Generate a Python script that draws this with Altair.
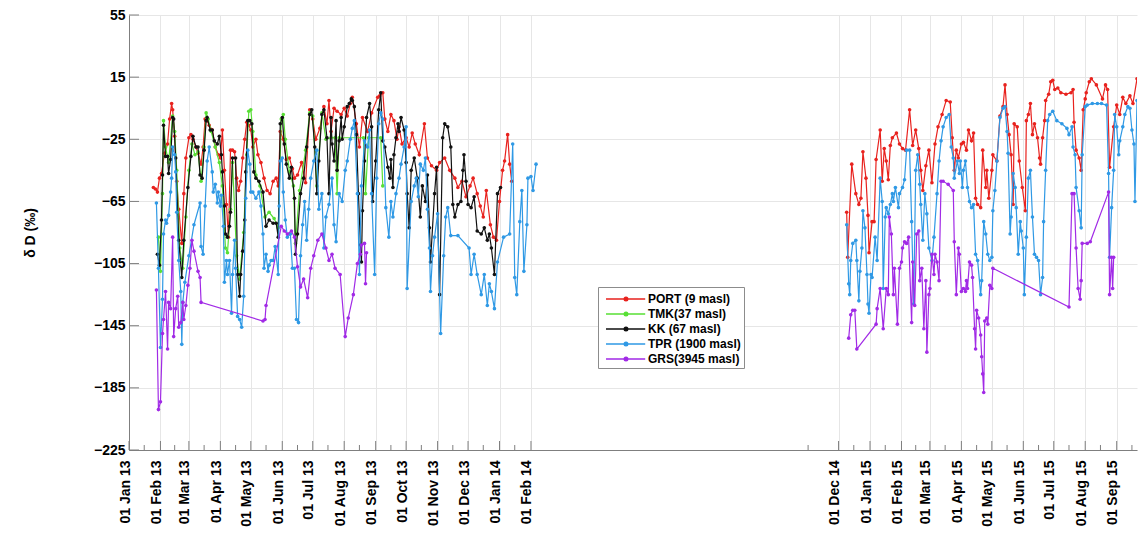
import altair as alt
import pandas as pd

# ---------------------------------------------------------------- data
site_names = ["PORT (9 masl)", "TMK(37 masl)", "KK (67 masl)", "TPR (1900 masl)", "GRS(3945 masl)"]
site_colors = ["#e8221e", "#58e035", "#111111", "#2f99e5", "#a12ae6"]

# (sampling date, dD in permil)
port = [
    ("2013-01-25", -56), ("2013-01-27", -57), ("2013-01-29", -59), ("2013-01-31", -50), ("2013-02-02", -47),
    ("2013-02-05", -34), ("2013-02-08", -28), ("2013-02-10", -12), ("2013-02-12", -2), ("2013-02-13", -6),
    ("2013-02-15", -23), ("2013-02-17", -52), ("2013-02-19", -70), ("2013-02-22", -92), ("2013-02-24", -60),
    ("2013-02-26", -37), ("2013-03-01", -24), ("2013-03-03", -22), ("2013-03-05", -25), ("2013-03-08", -30),
    ("2013-03-10", -34), ("2013-03-13", -41), ("2013-03-15", -30), ("2013-03-17", -12), ("2013-03-19", -13),
    ("2013-03-21", -16), ("2013-03-24", -19), ("2013-03-27", -30), ("2013-03-30", -35), ("2013-04-01", -37),
    ("2013-04-03", -19), ("2013-04-05", -45), ("2013-04-07", -67), ("2013-04-09", -88), ("2013-04-11", -32),
    ("2013-04-13", -32), ("2013-04-15", -33), ("2013-04-17", -50), ("2013-04-19", -58), ("2013-04-21", -52),
    ("2013-04-23", -37), ("2013-04-25", -25), ("2013-04-27", -14), ("2013-04-29", -16), ("2013-05-01", -19),
    ("2013-05-03", -30), ("2013-05-06", -25), ("2013-05-08", -35), ("2013-05-11", -40), ("2013-05-14", -50),
    ("2013-05-17", -58), ("2013-05-20", -60), ("2013-05-23", -52), ("2013-05-26", -50), ("2013-05-28", -55),
    ("2013-05-30", -20), ("2013-06-02", -25), ("2013-06-05", -38), ("2013-06-08", -37), ("2013-06-11", -44),
    ("2013-06-13", -50), ("2013-06-16", -48), ("2013-06-20", -40), ("2013-06-24", -53), ("2013-06-28", -6),
    ("2013-07-01", -12), ("2013-07-04", -25), ("2013-07-08", -18), ("2013-07-12", -4), ("2013-07-15", -15),
    ("2013-07-17", 0), ("2013-07-19", -20), ("2013-07-22", -5), ("2013-07-25", -7), ("2013-07-29", -9),
    ("2013-08-01", -5), ("2013-08-04", -10), ("2013-08-07", -2), ("2013-08-09", 2), ("2013-08-13", -15),
    ("2013-08-16", -30), ("2013-08-19", -11), ("2013-08-24", -20), ("2013-08-28", -8), ("2013-09-03", 2),
    ("2013-09-05", 3), ("2013-09-08", 5), ("2013-09-10", -12), ("2013-09-13", -20), ("2013-09-16", -9),
    ("2013-09-19", -13), ("2013-09-22", -25), ("2013-09-24", -17), ("2013-09-27", -28), ("2013-10-01", -24),
    ("2013-10-04", -30), ("2013-10-07", -21), ("2013-10-10", -28), ("2013-10-14", -35), ("2013-10-19", -15),
    ("2013-10-22", -37), ("2013-10-26", -42), ("2013-10-31", -45), ("2013-11-03", -40), ("2013-11-08", -37),
    ("2013-11-13", -45), ("2013-11-18", -50), ("2013-11-21", -56), ("2013-11-25", -52), ("2013-11-29", -62),
    ("2013-12-03", -55), ("2013-12-06", -50), ("2013-12-10", -60), ("2013-12-13", -68), ("2013-12-16", -75),
    ("2013-12-19", -58), ("2013-12-23", -80), ("2013-12-26", -88), ("2013-12-29", -90), ("2014-01-01", -65),
    ("2014-01-04", -45), ("2014-01-06", -39), ("2014-01-09", -22), ("2014-01-11", -41), ("2014-01-13", -52),
    ("2014-12-09", -72), ("2014-12-10", -101), ("2014-12-14", -41), ("2014-12-18", -60), ("2014-12-21", -67),
    ("2014-12-23", -63), ("2014-12-25", -33), ("2014-12-28", -50), ("2014-12-30", -74), ("2014-12-31", -98),
    ("2015-01-03", -78), ("2015-01-05", -78), ("2015-01-07", -38), ("2015-01-11", -19), ("2015-01-13", -52),
    ("2015-01-15", -31), ("2015-01-17", -39), ("2015-01-19", -51), ("2015-01-21", -29), ("2015-01-23", -24),
    ("2015-01-27", -21), ("2015-01-30", -28), ("2015-02-02", -31), ("2015-02-05", -32), ("2015-02-09", -6),
    ("2015-02-12", -29), ("2015-02-15", -19), ("2015-02-18", -31), ("2015-02-20", -45), ("2015-02-22", -58),
    ("2015-02-25", -42), ("2015-02-28", -32), ("2015-03-03", -53), ("2015-03-06", -28), ("2015-03-09", -17),
    ("2015-03-13", -9), ("2015-03-17", 0), ("2015-03-21", -1), ("2015-03-23", -24), ("2015-03-25", -45),
    ("2015-03-27", -32), ("2015-03-29", -37), ("2015-04-01", -28), ("2015-04-03", -27), ("2015-04-06", -32),
    ("2015-04-08", -19), ("2015-04-11", -26), ("2015-04-13", -21), ("2015-04-15", -63), ("2015-04-17", -67),
    ("2015-04-20", -69), ("2015-04-22", -32), ("2015-04-25", -56), ("2015-04-26", -45), ("2015-04-28", -63),
    ("2015-05-01", -45), ("2015-05-02", -35), ("2015-05-06", -39), ("2015-05-09", -10), ("2015-05-12", -4),
    ("2015-05-14", 10), ("2015-05-16", -9), ("2015-05-18", -22), ("2015-05-20", -35), ("2015-05-22", -67),
    ("2015-05-23", -15), ("2015-05-26", -17), ("2015-05-28", -39), ("2015-05-31", -56), ("2015-06-03", -71),
    ("2015-06-04", -13), ("2015-06-06", -9), ("2015-06-08", -2), ("2015-06-10", -22), ("2015-06-12", -15),
    ("2015-06-15", -24), ("2015-06-17", -37), ("2015-06-18", -41), ("2015-06-20", -24), ("2015-06-22", -13),
    ("2015-06-23", 0), ("2015-06-26", 4), ("2015-06-28", 12), ("2015-06-30", 13), ("2015-07-02", 7),
    ("2015-07-05", 8), ("2015-07-08", 5), ("2015-07-13", 4), ("2015-07-18", 5), ("2015-07-20", 7),
    ("2015-07-21", -14), ("2015-07-23", -32), ("2015-07-26", -37), ("2015-07-28", -45), ("2015-07-30", -6),
    ("2015-08-01", 1), ("2015-08-02", 5), ("2015-08-05", 12), ("2015-08-07", 14), ("2015-08-12", 10),
    ("2015-08-18", 1), ("2015-08-21", 10), ("2015-08-23", 7), ("2015-08-25", -43), ("2015-08-29", -17),
    ("2015-09-01", -3), ("2015-09-04", -9), ("2015-09-07", 2), ("2015-09-10", -2), ("2015-09-14", 3),
    ("2015-09-17", -2), ("2015-09-21", 14),
]

tmk = [
    ("2013-01-30", -88), ("2013-02-01", -110), ("2013-02-03", -60), ("2013-02-04", -13), ("2013-02-06", -30),
    ("2013-02-09", -40), ("2013-02-13", -10), ("2013-02-15", -20), ("2013-02-17", -45), ("2013-02-20", -95),
    ("2013-02-23", -108), ("2013-02-26", -75), ("2013-03-01", -45), ("2013-03-04", -28), ("2013-03-07", -35),
    ("2013-03-10", -33), ("2013-03-13", -52), ("2013-03-16", -30), ("2013-03-18", -8), ("2013-03-20", -12),
    ("2013-03-23", -20), ("2013-03-27", -30), ("2013-03-31", -40), ("2013-04-03", -55), ("2013-04-06", -95),
    ("2013-04-08", -98), ("2013-04-11", -70), ("2013-04-13", -40), ("2013-04-17", -100), ("2013-04-20", -115),
    ("2013-04-24", -85), ("2013-04-27", -35), ("2013-04-29", -7), ("2013-05-01", -6), ("2013-05-03", -20),
    ("2013-05-06", -48), ("2013-05-10", -55), ("2013-05-15", -75), ("2013-05-19", -72), ("2013-05-24", -76),
    ("2013-05-28", -82), ("2013-05-31", -12), ("2013-06-02", -9), ("2013-06-04", -25), ("2013-06-08", -46),
    ("2013-06-12", -55), ("2013-06-14", -92), ("2013-06-18", -58), ("2013-06-24", -32), ("2013-06-28", -8),
    ("2013-07-01", -10), ("2013-07-05", -55), ("2013-07-10", -8), ("2013-07-14", -25), ("2013-07-19", -24),
    ("2013-07-23", -24), ("2013-07-25", -60), ("2013-07-27", -24), ("2013-08-20", -24), ("2013-08-22", -60),
    ("2013-08-25", -24), ("2013-09-06", -24), ("2013-09-08", -55),
]

kk = [
    ("2013-01-29", -99), ("2013-01-31", -106), ("2013-02-02", -77), ("2013-02-03", -48), ("2013-02-04", -16),
    ("2013-02-06", -36), ("2013-02-08", -36), ("2013-02-09", -47), ("2013-02-11", -38), ("2013-02-13", -11),
    ("2013-02-14", -12), ("2013-02-16", -37), ("2013-02-19", -90), ("2013-02-22", -114), ("2013-02-24", -90),
    ("2013-02-28", -56), ("2013-03-03", -36), ("2013-03-05", -23), ("2013-03-08", -30), ("2013-03-10", -30),
    ("2013-03-12", -48), ("2013-03-14", -50), ("2013-03-16", -32), ("2013-03-18", -13), ("2013-03-19", -11),
    ("2013-03-22", -19), ("2013-03-24", -19), ("2013-03-26", -26), ("2013-03-29", -28), ("2013-03-31", -23),
    ("2013-04-02", -35), ("2013-04-03", -46), ("2013-04-05", -68), ("2013-04-06", -86), ("2013-04-08", -88),
    ("2013-04-10", -81), ("2013-04-11", -72), ("2013-04-13", -37), ("2013-04-16", -37), ("2013-04-18", -112),
    ("2013-04-20", -126), ("2013-04-21", -112), ("2013-04-23", -97), ("2013-04-25", -77), ("2013-04-26", -46),
    ("2013-04-28", -13), ("2013-04-30", -13), ("2013-05-02", -15), ("2013-05-04", -46), ("2013-05-06", -50),
    ("2013-05-09", -52), ("2013-05-13", -59), ("2013-05-16", -81), ("2013-05-19", -77), ("2013-05-23", -79),
    ("2013-05-26", -79), ("2013-05-28", -88), ("2013-05-30", -15), ("2013-06-01", -11), ("2013-06-03", -28),
    ("2013-06-05", -41), ("2013-06-08", -50), ("2013-06-10", -43), ("2013-06-13", -63), ("2013-06-14", -99),
    ("2013-06-16", -86), ("2013-06-19", -60), ("2013-06-22", -50), ("2013-06-25", -30), ("2013-06-28", -9),
    ("2013-06-30", -6), ("2013-07-03", -30), ("2013-07-05", -60), ("2013-07-07", -39), ("2013-07-10", -9),
    ("2013-07-12", -6), ("2013-07-15", -24), ("2013-07-17", -60), ("2013-07-19", -11), ("2013-07-20", -28),
    ("2013-07-22", -39), ("2013-07-24", -13), ("2013-07-25", -45), ("2013-07-27", -26), ("2013-07-29", -11),
    ("2013-07-30", -25), ("2013-08-01", -17), ("2013-08-04", -4), ("2013-08-06", -2), ("2013-08-08", 1),
    ("2013-08-09", 0), ("2013-08-11", -4), ("2013-08-13", -22), ("2013-08-15", -60), ("2013-08-17", -93),
    ("2013-08-18", -104), ("2013-08-19", -71), ("2013-08-21", -39), ("2013-08-23", -11), ("2013-08-26", -2),
    ("2013-08-28", -17), ("2013-08-29", -65), ("2013-09-01", -39), ("2013-09-04", -6), ("2013-09-06", 5),
    ("2013-09-08", -26), ("2013-09-10", -30), ("2013-09-13", -43), ("2013-09-15", -50), ("2013-09-16", -38),
    ("2013-09-18", -56), ("2013-09-19", -35), ("2013-09-21", -24), ("2013-09-23", -15), ("2013-09-24", -20),
    ("2013-09-26", -11), ("2013-09-29", -19), ("2013-10-01", -40), ("2013-10-02", -60), ("2013-10-04", -82),
    ("2013-10-06", -45), ("2013-10-09", -37), ("2013-10-12", -50), ("2013-10-15", -75), ("2013-10-17", -55),
    ("2013-10-20", -65), ("2013-10-22", -48), ("2013-10-24", -82), ("2013-10-25", -104), ("2013-10-29", -60),
    ("2013-10-31", -43), ("2013-11-03", -125), ("2013-11-06", -24), ("2013-11-08", -15), ("2013-11-11", -17),
    ("2013-11-14", -30), ("2013-11-16", -67), ("2013-11-18", -75), ("2013-11-21", -67), ("2013-11-24", -65),
    ("2013-11-26", -45), ("2013-11-27", -35), ("2013-11-29", -52), ("2013-12-01", -67), ("2013-12-04", -69),
    ("2013-12-07", -62), ("2013-12-10", -84), ("2013-12-14", -86), ("2013-12-17", -82), ("2013-12-20", -90),
    ("2013-12-22", -86), ("2013-12-24", -95), ("2013-12-27", -112), ("2013-12-30", -60), ("2014-01-02", -56),
]

tpr = [
    ("2013-01-28", -66), ("2013-01-30", -108), ("2013-02-01", -159), ("2013-02-03", -128), ("2013-02-04", -86),
    ("2013-02-06", -77), ("2013-02-07", -79), ("2013-02-09", -74), ("2013-02-11", -59), ("2013-02-12", -50),
    ("2013-02-13", -30), ("2013-02-15", -35), ("2013-02-16", -46), ("2013-02-17", -72), ("2013-02-19", -103),
    ("2013-02-21", -123), ("2013-02-22", -157), ("2013-02-23", -130), ("2013-02-25", -117), ("2013-03-01", -100),
    ("2013-03-06", -80), ("2013-03-12", -66), ("2013-03-13", -94), ("2013-03-15", -99), ("2013-03-17", -68),
    ("2013-03-19", -39), ("2013-03-21", -30), ("2013-03-24", -46), ("2013-03-25", -59), ("2013-03-27", -54),
    ("2013-03-29", -66), ("2013-03-30", -59), ("2013-04-01", -68), ("2013-04-02", -61), ("2013-04-04", -81),
    ("2013-04-05", -117), ("2013-04-07", -103), ("2013-04-08", -112), ("2013-04-10", -103), ("2013-04-12", -137),
    ("2013-04-13", -112), ("2013-04-15", -90), ("2013-04-16", -108), ("2013-04-18", -139), ("2013-04-20", -141),
    ("2013-04-22", -146), ("2013-04-24", -126), ("2013-04-26", -63), ("2013-04-28", -32), ("2013-04-30", -41),
    ("2013-05-01", -59), ("2013-05-03", -59), ("2013-05-06", -63), ("2013-05-09", -59), ("2013-05-11", -68),
    ("2013-05-13", -86), ("2013-05-14", -108), ("2013-05-16", -99), ("2013-05-18", -110), ("2013-05-19", -106),
    ("2013-05-21", -103), ("2013-05-23", -103), ("2013-05-25", -94), ("2013-05-28", -112), ("2013-05-29", -68),
    ("2013-05-30", -39), ("2013-06-01", -37), ("2013-06-02", -59), ("2013-06-04", -77), ("2013-06-06", -88),
    ("2013-06-09", -86), ("2013-06-11", -108), ("2013-06-13", -108), ("2013-06-15", -141), ("2013-06-17", -143),
    ("2013-06-19", -100), ("2013-06-21", -80), ("2013-06-23", -65), ("2013-06-25", -90), ("2013-06-27", -70),
    ("2013-06-29", -50), ("2013-07-02", -39), ("2013-07-05", -32), ("2013-07-07", -70), ("2013-07-10", -60),
    ("2013-07-12", -95), ("2013-07-14", -75), ("2013-07-17", -67), ("2013-07-20", -50), ("2013-07-22", -80),
    ("2013-07-24", -91), ("2013-07-27", -60), ("2013-07-30", -65), ("2013-08-02", -45), ("2013-08-04", -39),
    ("2013-08-07", -25), ("2013-08-09", -18), ("2013-08-11", -13), ("2013-08-14", -60), ("2013-08-16", -112),
    ("2013-08-18", -55), ("2013-08-21", -26), ("2013-08-24", -30), ("2013-08-26", -19), ("2013-08-28", -60),
    ("2013-08-31", -112), ("2013-09-02", -50), ("2013-09-04", -15), ("2013-09-06", -8), ("2013-09-08", -12),
    ("2013-09-11", -69), ("2013-09-14", -88), ("2013-09-16", -65), ("2013-09-18", -75), ("2013-09-21", -60),
    ("2013-09-24", -50), ("2013-09-26", -41), ("2013-09-29", -30), ("2013-10-01", -17), ("2013-10-02", -121),
    ("2013-10-06", -65), ("2013-10-09", -55), ("2013-10-11", -50), ("2013-10-13", -62), ("2013-10-15", -41),
    ("2013-10-18", -45), ("2013-10-20", -37), ("2013-10-22", -70), ("2013-10-24", -95), ("2013-10-25", -123),
    ("2013-10-27", -100), ("2013-10-29", -88), ("2013-11-01", -73), ("2013-11-04", -150), ("2013-11-07", -100),
    ("2013-11-09", -75), ("2013-11-11", -69), ("2013-11-14", -87), ("2013-11-21", -87), ("2013-12-02", -95),
    ("2013-12-04", -112), ("2013-12-07", -99), ("2013-12-10", -112), ("2013-12-14", -125), ("2013-12-17", -112),
    ("2013-12-20", -132), ("2013-12-22", -118), ("2013-12-24", -123), ("2013-12-27", -134), ("2013-12-30", -104),
    ("2014-01-05", -88), ("2014-01-11", -86), ("2014-01-14", -28), ("2014-01-16", -114), ("2014-01-18", -125),
    ("2014-01-21", -78), ("2014-01-23", -58), ("2014-01-25", -110), ("2014-01-28", -80), ("2014-01-29", -50),
    ("2014-02-01", -49), ("2014-02-03", -58), ("2014-02-06", -41),
    ("2014-12-09", -80), ("2014-12-11", -118), ("2014-12-12", -125), ("2014-12-13", -103), ("2014-12-15", -92),
    ("2014-12-18", -90), ("2014-12-19", -103), ("2014-12-21", -129), ("2014-12-22", -110), ("2014-12-24", -95),
    ("2014-12-25", -71), ("2014-12-27", -82), ("2014-12-29", -112), ("2014-12-30", -131), ("2014-12-31", -137),
    ("2015-01-02", -112), ("2015-01-03", -114), ("2015-01-06", -88), ("2015-01-08", -103), ("2015-01-11", -50),
    ("2015-01-13", -65), ("2015-01-14", -121), ("2015-01-16", -75), ("2015-01-17", -69), ("2015-01-19", -73),
    ("2015-01-21", -67), ("2015-01-23", -60), ("2015-01-24", -65), ("2015-01-26", -56), ("2015-01-29", -69),
    ("2015-01-30", -60), ("2015-02-02", -56), ("2015-02-04", -51), ("2015-02-06", -32), ("2015-02-09", -32),
    ("2015-02-11", -78), ("2015-02-13", -131), ("2015-02-15", -45), ("2015-02-17", -35), ("2015-02-19", -54),
    ("2015-02-20", -67), ("2015-02-22", -90), ("2015-02-24", -60), ("2015-02-26", -73), ("2015-02-28", -95),
    ("2015-03-03", -103), ("2015-03-05", -88), ("2015-03-08", -60), ("2015-03-10", -39), ("2015-03-12", -26),
    ("2015-03-14", -17), ("2015-03-17", -11), ("2015-03-20", -9), ("2015-03-22", -30), ("2015-03-24", -37),
    ("2015-03-25", -50), ("2015-03-28", -39), ("2015-03-30", -47), ("2015-03-31", -39), ("2015-04-02", -56),
    ("2015-04-03", -45), ("2015-04-05", -39), ("2015-04-07", -56), ("2015-04-09", -65), ("2015-04-11", -69),
    ("2015-04-13", -67), ("2015-04-15", -99), ("2015-04-17", -103), ("2015-04-20", -125), ("2015-04-21", -116),
    ("2015-04-23", -78), ("2015-04-25", -86), ("2015-04-27", -99), ("2015-04-29", -103), ("2015-05-01", -101),
    ("2015-05-02", -71), ("2015-05-04", -58), ("2015-05-06", -39), ("2015-05-09", -11), ("2015-05-12", -5),
    ("2015-05-14", -4), ("2015-05-16", -20), ("2015-05-17", -34), ("2015-05-19", -86), ("2015-05-20", -75),
    ("2015-05-22", -47), ("2015-05-24", -56), ("2015-05-25", -69), ("2015-05-27", -99), ("2015-05-29", -78),
    ("2015-05-30", -84), ("2015-06-01", -95), ("2015-06-02", -125), ("2015-06-04", -88), ("2015-06-06", -50),
    ("2015-06-08", -45), ("2015-06-10", -75), ("2015-06-12", -99), ("2015-06-14", -101), ("2015-06-16", -103),
    ("2015-06-18", -125), ("2015-06-20", -114), ("2015-06-21", -78), ("2015-06-23", -45), ("2015-06-25", -13),
    ("2015-06-27", -9), ("2015-06-30", -7), ("2015-07-04", -13), ("2015-07-09", -15), ("2015-07-14", -18),
    ("2015-07-16", -22), ("2015-07-19", -17), ("2015-07-20", -30), ("2015-07-22", -35), ("2015-07-23", -56),
    ("2015-07-26", -71), ("2015-07-28", -82), ("2015-07-29", -35), ("2015-08-01", -4), ("2015-08-03", -3),
    ("2015-08-08", -2), ("2015-08-13", -2), ("2015-08-17", -2), ("2015-08-22", -3), ("2015-08-24", -47),
    ("2015-08-25", -101), ("2015-08-27", -69), ("2015-08-29", -45), ("2015-08-30", -9), ("2015-09-01", -17),
    ("2015-09-03", -35), ("2015-09-04", -26), ("2015-09-07", -17), ("2015-09-09", -9), ("2015-09-12", -4),
    ("2015-09-14", -5), ("2015-09-16", -19), ("2015-09-18", -28), ("2015-09-19", -65), ("2015-09-21", 0),
]

grs = [
    ("2013-01-28", -122), ("2013-01-30", -199), ("2013-02-01", -194), ("2013-02-03", -150), ("2013-02-04", -141),
    ("2013-02-06", -123), ("2013-02-08", -160), ("2013-02-09", -130), ("2013-02-11", -134), ("2013-02-13", -88),
    ("2013-02-14", -152), ("2013-02-16", -134), ("2013-02-18", -126), ("2013-02-19", -146), ("2013-02-21", -143),
    ("2013-02-23", -130), ("2013-02-24", -141), ("2013-02-26", -132), ("2013-02-28", -119), ("2013-03-02", -108),
    ("2013-03-04", -90), ("2013-03-06", -97), ("2013-03-10", -110), ("2013-03-12", -114), ("2013-03-13", -130),
    ("2013-05-13", -142), ("2013-05-15", -141), ("2013-05-16", -132), ("2013-05-31", -81), ("2013-06-03", -84),
    ("2013-06-06", -86), ("2013-06-10", -84), ("2013-06-13", -88), ("2013-06-16", -107), ("2013-06-19", -120),
    ("2013-06-22", -115), ("2013-06-26", -127), ("2013-06-29", -108), ("2013-07-02", -100), ("2013-07-06", -90),
    ("2013-07-10", -86), ("2013-07-14", -95), ("2013-07-17", -103), ("2013-07-20", -99), ("2013-07-23", -108),
    ("2013-07-28", -112), ("2013-08-02", -152), ("2013-08-05", -140), ("2013-08-10", -125), ("2013-08-14", -105),
    ("2013-08-17", -99), ("2013-08-18", -93), ("2013-08-21", -92), ("2013-08-22", -118), ("2013-08-23", -98),
    ("2014-12-11", -153), ("2014-12-13", -138), ("2014-12-15", -135), ("2014-12-17", -135), ("2014-12-19", -160),
    ("2015-01-07", -144), ("2015-01-08", -134), ("2015-01-11", -121), ("2015-01-14", -147), ("2015-01-17", -121),
    ("2015-01-19", -125), ("2015-01-20", -75), ("2015-01-22", -86), ("2015-01-24", -125), ("2015-01-25", -108),
    ("2015-01-28", -144), ("2015-01-30", -108), ("2015-02-01", -104), ("2015-02-02", -95), ("2015-02-04", -91),
    ("2015-02-06", -92), ("2015-02-08", -88), ("2015-02-11", -143), ("2015-02-12", -104), ("2015-02-14", -132),
    ("2015-02-16", -86), ("2015-02-18", -84), ("2015-02-19", -116), ("2015-02-21", -108), ("2015-02-23", -147),
    ("2015-02-25", -116), ("2015-02-26", -162), ("2015-02-28", -125), ("2015-03-01", -121), ("2015-03-03", -99),
    ("2015-03-05", -112), ("2015-03-06", -99), ("2015-03-08", -104), ("2015-03-10", -116), ("2015-03-12", -52),
    ("2015-03-14", -52), ("2015-03-19", -54), ("2015-03-24", -58), ("2015-03-25", -91), ("2015-03-27", -125),
    ("2015-03-29", -95), ("2015-03-30", -99), ("2015-04-01", -123), ("2015-04-03", -121), ("2015-04-05", -123),
    ("2015-04-06", -116), ("2015-04-07", -121), ("2015-04-09", -104), ("2015-04-11", -106), ("2015-04-12", -114),
    ("2015-04-14", -147), ("2015-04-15", -160), ("2015-04-16", -135), ("2015-04-18", -140), ("2015-04-20", -151),
    ("2015-04-21", -165), ("2015-04-22", -176), ("2015-04-23", -188), ("2015-04-24", -142), ("2015-04-26", -140),
    ("2015-04-27", -144), ("2015-04-29", -119), ("2015-05-01", -121), ("2015-05-02", -108), ("2015-07-16", -133),
    ("2015-07-19", -60), ("2015-07-21", -60), ("2015-07-23", -95), ("2015-07-25", -121), ("2015-07-27", -128),
    ("2015-07-28", -116), ("2015-07-29", -92), ("2015-08-03", -92), ("2015-08-06", -91), ("2015-08-24", -59),
    ("2015-08-25", -125), ("2015-08-27", -101), ("2015-08-28", -121), ("2015-08-29", -101),
]

# axis ticks: labelled month starts, and the shorter mid-month ticks
major_ticks = [
    "2013-01-01", "2013-02-01", "2013-03-01", "2013-04-01", "2013-05-01", "2013-06-01", "2013-07-01",
    "2013-08-01", "2013-09-01", "2013-10-01", "2013-11-01", "2013-12-01", "2014-01-01", "2014-02-01",
    "2014-12-01", "2015-01-01", "2015-02-01", "2015-03-01", "2015-04-01", "2015-05-01", "2015-06-01",
    "2015-07-01", "2015-08-01", "2015-09-01",
]
minor_ticks = [
    "2013-01-16", "2013-02-15", "2013-03-16", "2013-04-16", "2013-05-16", "2013-06-16", "2013-07-16",
    "2013-08-16", "2013-09-16", "2013-10-16", "2013-11-16", "2013-12-16", "2014-01-16",
    "2014-11-01", "2014-12-16", "2015-01-16", "2015-02-15", "2015-03-16", "2015-04-16", "2015-05-16",
    "2015-06-16", "2015-07-16", "2015-08-16", "2015-09-16",
]
y_ticks = [-225, -185, -145, -105, -65, -25, 15, 55]


def utc(day):
    y, m, d = (int(p) for p in day.split("-"))
    return alt.DateTime(year=y, month=m, date=d, utc=True)


rows = []
for name, series in zip(site_names, [port, tmk, kk, tpr, grs]):
    for day, val in series:
        rows.append({"site": name, "date": day, "dD": val,
                     "campaign": "A" if day < "2014-06-01" else "B"})
df = pd.DataFrame(rows)

W, H = 1008, 435
AXIS_GREY = "#7f7f7f"
GRID_GREY = "#e6e6e6"
FONT = "Liberation Sans"

x_enc = alt.X(
    "date:T",
    scale=alt.Scale(type="utc", domain=[utc("2013-01-01"), utc("2015-09-21")]),
    axis=alt.Axis(
        values=[utc(d) for d in major_ticks],
        labelExpr="utcFormat(datum.value, '%d %b %y')",
        labelAngle=-90, labelOffset=-4, labelPadding=10, labelFlush=False, labelOverlap=False,
        labelFont=FONT, labelFontSize=14, labelFontWeight="bold", labelColor="#000000",
        ticks=False, grid=True, gridColor=GRID_GREY, domainColor=AXIS_GREY, title=None,
    ),
)
y_enc = alt.Y(
    "dD:Q",
    scale=alt.Scale(domain=[-225, 55], nice=False, zero=False),
    axis=alt.Axis(
        values=y_ticks, labelPadding=4, labelFont=FONT, labelFontSize=14, labelFontWeight="bold",
        labelColor="#000000", ticks=False, grid=True, gridColor=GRID_GREY, domainColor=AXIS_GREY,
        title="δ D (‰)", titleFont=FONT, titleFontSize=14, titleFontWeight="bold",
        titleColor="#000000", titlePadding=56,
    ),
)

# legend entry: a short line with a dot in the middle
legend_symbol = ("M-0.5,0H4.4"
                 "M2.22,0A0.22,0.22,0,1,1,1.78,0A0.22,0.22,0,1,1,2.22,0"
                 "M2.1,0A0.1,0.1,0,1,1,1.9,0A0.1,0.1,0,1,1,2.1,0")
color_enc = alt.Color(
    "site:N",
    scale=alt.Scale(domain=site_names, range=site_colors),
    legend=alt.Legend(
        title=None, orient="none", legendX=469, legendY=272,
        symbolType=legend_symbol, symbolSize=256, symbolStrokeWidth=1.5, symbolOpacity=1,
        labelFont=FONT, labelFontSize=12, labelFontWeight="bold", labelColor="#000000",
        labelOffset=29, padding=3, rowPadding=0,
        fillColor="#ffffff", strokeColor="#8c8c8c",
    ),
)

# inward-pointing axis ticks
major_rules = alt.Chart(pd.DataFrame({"date": major_ticks})).mark_rule(
    color=AXIS_GREY, strokeWidth=1).encode(x=x_enc, y=alt.value(H), y2=alt.value(H - 9))
minor_rules = alt.Chart(pd.DataFrame({"date": minor_ticks})).mark_rule(
    color=AXIS_GREY, strokeWidth=1).encode(x=x_enc, y=alt.value(H), y2=alt.value(H - 5))
y_rules = alt.Chart(pd.DataFrame({"dD": y_ticks})).mark_rule(
    color=AXIS_GREY, strokeWidth=1).encode(y=y_enc, x=alt.value(0), x2=alt.value(10))

layers = [major_rules, minor_rules, y_rules]
for name in site_names:
    sub = alt.Chart(df).transform_filter(alt.datum.site == name).encode(
        x=x_enc, y=y_enc, color=color_enc)
    layers.append(sub.mark_line(strokeWidth=1.2, clip=True).encode(detail="campaign:N"))
    layers.append(sub.mark_circle(size=13, opacity=1, clip=True))

chart = alt.layer(*layers).properties(
    width=W, height=H,
    padding={"left": 129, "top": 15, "right": 3, "bottom": 88},
    autosize=alt.AutoSizeParams(type="none"),
).configure_view(stroke=None)

chart.save("out.html", embed_options={"renderer": "svg", "actions": False})
